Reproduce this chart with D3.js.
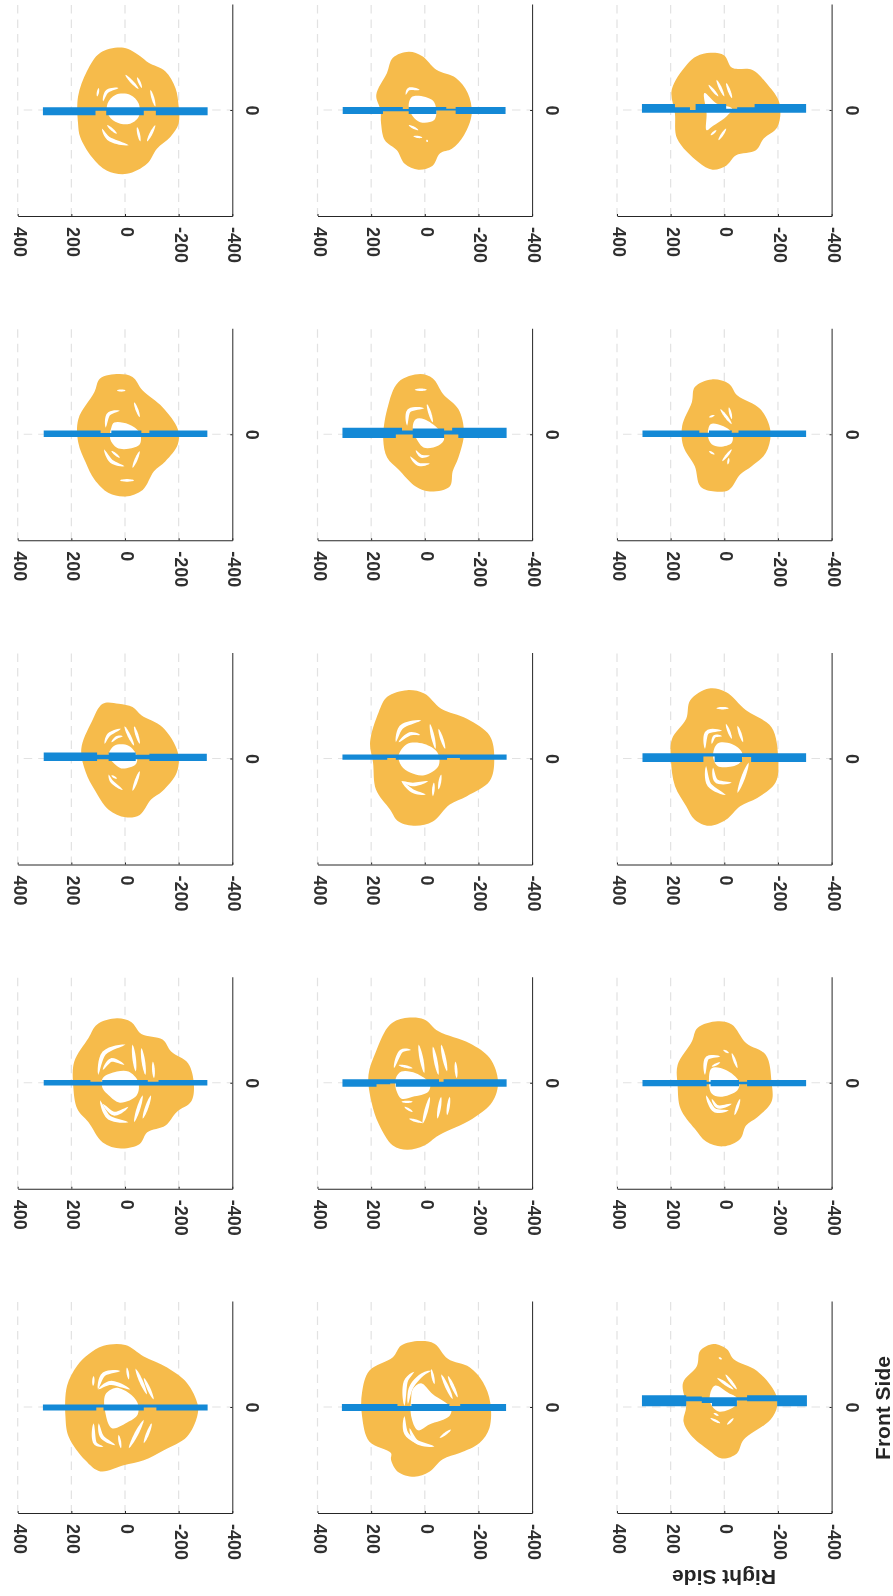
<!DOCTYPE html>
<html>
<head>
<meta charset="utf-8">
<script src="https://cdn.jsdelivr.net/npm/d3@7"></script>
<style>
  html, body { margin: 0; padding: 0; background: #fff; }
  svg { display: block; filter: blur(0.45px); }
  text { font-family: "Liberation Sans", Arial, sans-serif; fill: #262626; }
</style>
</head>
<body>
<div id="chart"></div>
<script>
const valueTicks = [400, 200, 0, -200, -400];
const sideTicks = [0];
const gridValues = [400, 200, 0, -200];

// outlines per panel, row by row: [value, side]
const outlines = [
  [[5,235],[-57,203],[-88,178],[-150,146],[-188,83],[-200,13],[-200,-51],[-169,-102],[-119,-146],[-82,-203],[-7,-241],[67,-229],[123,-178],[167,-102],[175,-51],[175,51],[142,146],[92,216]],
  [[60,220],[9,203],[-43,152],[-116,121],[-160,64],[-175,-13],[-146,-95],[-101,-146],[-57,-163],[-28,-211],[24,-225],[75,-203],[104,-152],[149,-114],[163,-51],[165,0],[181,57],[141,140],[119,197]],
  [[51,216],[0,206],[-29,159],[-103,152],[-162,95],[-206,25],[-198,-64],[-147,-108],[-118,-152],[-44,-171],[-7,-210],[44,-225],[96,-197],[176,-108],[184,-13],[196,76],[140,171],[103,203]],
  [[23,227],[-28,216],[-66,165],[-140,102],[-197,19],[-197,-38],[-151,-102],[-108,-140],[-66,-210],[-2,-235],[61,-222],[114,-171],[146,-108],[174,-32],[174,57],[114,159],[93,210]],
  [[17,227],[-30,210],[-68,152],[-125,95],[-146,6],[-125,-89],[-104,-140],[-93,-197],[-19,-216],[34,-197],[98,-133],[140,-89],[155,-19],[140,95],[98,197]],
  [[47,207],[-17,191],[-49,146],[-134,95],[-172,13],[-155,-70],[-102,-121],[-59,-152],[-17,-210],[36,-216],[89,-197],[110,-121],[153,-44],[157,32],[121,121],[110,178]],
  [[23,207],[-28,194],[-61,163],[-140,118],[-197,23],[-193,-53],[-140,-123],[-97,-155],[-55,-213],[-2,-222],[61,-193],[114,-117],[146,-53],[163,36],[125,137],[83,207]],
  [[66,258],[2,245],[-61,188],[-157,150],[-242,86],[-259,-3],[-242,-85],[-157,-142],[-93,-174],[-30,-238],[34,-254],[98,-238],[129,-193],[182,-117],[193,-15],[204,61],[172,175],[140,233]],
  [[57,264],[-6,251],[-81,182],[-176,118],[-201,-3],[-191,-91],[-123,-149],[-59,-180],[-6,-231],[57,-254],[110,-231],[142,-180],[184,-104],[199,-3],[195,74],[142,150],[127,220]],
  [[30,243],[-23,229],[-61,184],[-140,163],[-172,118],[-235,74],[-257,-9],[-246,-72],[-193,-110],[-151,-161],[-83,-187],[-55,-231],[15,-248],[83,-225],[136,-149],[178,-98],[193,-9],[189,80],[136,169],[104,220]],
  [[66,245],[2,239],[-51,194],[-167,149],[-242,93],[-273,4],[-252,-72],[-178,-136],[-51,-199],[2,-237],[66,-253],[119,-237],[172,-155],[199,-72],[210,29],[182,118],[129,220]],
  [[25,232],[-28,220],[-81,150],[-155,105],[-176,4],[-176,-72],[-123,-130],[-81,-161],[-59,-212],[4,-240],[68,-222],[110,-174],[163,-98],[174,-9],[174,67],[121,156],[100,207]],
  [[80,231],[-1,234],[-70,191],[-157,149],[-231,91],[-271,9],[-269,-36],[-231,-112],[-145,-163],[-70,-201],[5,-220],[92,-243],[148,-201],[210,-112],[222,-36],[216,80],[179,155],[136,199]],
  [[20,249],[-36,239],[-86,182],[-167,150],[-217,93],[-244,17],[-241,-79],[-204,-136],[-130,-174],[-67,-197],[-17,-244],[39,-263],[101,-244],[126,-199],[126,-174],[207,-130],[234,-34],[234,55],[207,137],[119,188],[88,232]],
  [[40,238],[-10,218],[-35,180],[-122,136],[-190,53],[-197,3],[-172,-48],[-72,-124],[-47,-175],[9,-194],[58,-163],[126,-105],[152,-55],[142,3],[154,91],[102,155],[90,212]]
];

const holes = [
  [[36,57],[-20,57],[-51,25],[-51,-25],[-14,-53],[36,-44],[65,-13],[65,25]],
  [[46,51],[-28,38],[-43,0],[-35,-38],[9,-48],[38,-32],[60,13]],
  [[74,64],[29,25],[-29,6],[-7,-25],[44,-61],[66,-76],[66,-13]],
  [[40,44],[-13,38],[-55,6],[-55,-38],[-13,-55],[30,-51],[55,-19],[51,25]],
  [[34,57],[2,57],[-51,19],[-72,-19],[-51,-42],[2,-51],[30,-19],[45,25]],
  [[51,38],[8,32],[-28,6],[-28,-32],[15,-47],[47,-38],[61,-6]],
  [[40,48],[-13,48],[-44,10],[-40,-22],[8,-38],[30,-28],[61,10]],
  [[66,55],[2,55],[-47,23],[-51,-28],[2,-63],[55,-53],[87,-28],[98,10]],
  [[25,57],[-28,55],[-66,23],[-59,-15],[-28,-30],[25,-28],[42,10]],
  [[30,42],[-13,42],[-49,4],[-44,-47],[19,-75],[61,-47],[83,-22],[83,17]],
  [[87,42],[34,36],[-19,-3],[-13,-34],[45,-53],[87,-60],[108,-22],[108,17]],
  [[47,55],[-6,48],[-55,4],[-49,-28],[15,-53],[47,-41],[57,4]],
  [[73,47],[36,72],[-14,53],[-47,15],[-47,-29],[-14,-55],[49,-80],[73,-23]],
  [[45,67],[14,90],[-30,48],[-98,-3],[-92,-34],[-17,-66],[26,-88],[51,-34],[51,29]],
  [[34,81],[-16,53],[-47,34],[-41,5],[21,-17],[52,15],[52,53]]
];

// white slivers between the rings
const slivers = [
  [[[82,32],[67,70],[24,83]],[[98,83],[104,51]],[[-1,133],[-51,79]],[[-45,124],[-63,83]],[[-95,76],[-113,13]],[[86,-70],[61,-108],[-14,-133]],[[67,-57],[30,-90]],[[-45,-64],[-57,-119]],[[-113,-57],[-82,-119]]],
  [[[71,57],[60,79],[19,76]],[[60,-57],[24,-76]],[[43,-99],[9,-104]],[[-7,-112],[-10,-121]]],
  [[[29,114],[0,51]],[[59,95],[22,51]],[[-7,102],[-29,44]],[[22,-114],[-7,-70]],[[51,-95],[29,-76]]],
  [[[30,165],[-2,165]],[[72,25],[61,76],[19,89]],[[-34,121],[-55,64]],[[78,-57],[51,-102],[2,-121]],[[51,-63],[19,-89]],[[-55,-63],[-28,-127]],[[19,-174],[-34,-174]]],
  [[[38,168],[-8,168]],[[66,32],[59,89],[2,98]],[[-8,114],[-30,44]],[[55,-83],[23,-114],[-19,-110]],[[34,-60],[13,-83],[-19,-80]]],
  [[[57,64],[36,72]],[[15,95],[-28,38]],[[-17,102],[-28,57]],[[57,-64],[36,-76]],[[-28,-57],[8,-102]],[[-17,-89],[-13,-114]]],
  [[[76,55],[61,89],[15,112]],[[51,61],[30,80],[8,84]],[[2,122],[-34,48]],[[-34,122],[-55,55]],[[61,-60],[51,-85],[8,-119]],[[51,-64],[30,-76]],[[-55,-47],[-28,-123]]],
  [[[108,61],[87,119],[13,144]],[[98,61],[55,93],[17,89]],[[-19,131],[-40,36]],[[-51,112],[-76,36]],[[87,-85],[45,-123],[-4,-136]],[[87,-85],[45,-98],[-13,-85]],[[-34,-91],[-30,-142]],[[-61,-60],[-51,-117]]],
  [[[30,190],[-17,190]],[[72,36],[64,99],[8,105]],[[47,55],[36,84],[8,84]],[[-49,124],[-70,61]],[[-6,131],[-28,74]],[[68,-28],[57,-98],[-6,-138]],[[42,-34],[30,-85],[-28,-91]],[[-91,-15],[-49,-130]]],
  [[[100,29],[78,112],[-2,144]],[[83,48],[51,86],[2,67]],[[-28,144],[-40,42]],[[-61,131],[-76,29]],[[-104,80],[-108,17]],[[93,-66],[61,-130],[-13,-149]],[[83,-79],[40,-117],[-13,-91]],[[-66,-47],[-34,-149]],[[-97,-47],[-66,-136]]],
  [[[115,55],[87,120],[51,124]],[[98,67],[45,55]],[[23,144],[2,36]],[[-30,137],[-51,29]],[[-61,144],[-83,42]],[[-114,80],[-119,17]],[[76,-91],[45,-110]],[[59,-136],[8,-151]],[[87,-72],[45,-72]],[[-19,-53],[8,-155]],[[-61,-53],[-47,-136]],[[-93,-53],[-83,-123]]],
  [[[72,29],[64,93],[15,99]],[[47,61],[15,77]],[[4,124],[-17,112]],[[-28,112],[-49,55]],[[68,-47],[36,-104],[-17,-104]],[[47,-60],[25,-91],[-28,-79]],[[-59,-60],[-38,-123]]],
  [[[101,66],[80,123],[17,136]],[[100,66],[55,91],[-20,66]],[[-7,149],[-14,104]],[[-39,145],[-82,47]],[[-70,110],[-107,28]],[[117,117],[119,79]],[[98,-61],[86,-112],[36,-144]],[[117,-61],[111,-137],[80,-150]],[[24,-105],[15,-156]],[[-70,-48],[-14,-156]],[[-100,-61],[-70,-137]]],
  [[[76,4],[70,99],[39,133]],[[63,10],[51,74],[7,124],[-24,137]],[[-24,143],[-36,86]],[[-61,124],[-104,29]],[[-86,118],[-123,36]],[[76,-34],[70,-98],[20,-142]],[[57,-79],[32,-130],[-36,-149]],[[-55,-117],[-98,-85]]],
  [[[27,110],[-35,66]],[[-4,123],[-47,66]],[[21,187],[9,180]],[[52,-42],[15,-61]],[[40,-23],[21,-33]],[[-10,-67],[-35,-42]]]
];

// blue bar, step edges along the value axis
const barValues = [
  [306,110,70,-70,-115,-308],
  [306,156,82,60,-43,-80,-115,-301],
  [307,184,128,107,-7,-48,-113,-305],
  [303,91,51,-61,-91,-307],
  [307,108,85,45,-72,-102,-125,-305],
  [305,93,57,-28,-53,-305],
  [303,104,61,-40,-91,-305],
  [307,140,108,-83,-131,-305],
  [305,78,36,-66,-100,-305],
  [303,129,85,-85,-125,-307],
  [307,180,129,108,-53,-70,-305],
  [305,66,51,-55,-85,-305],
  [306,107,80,-70,-117,-308],
  [309,102,50,-92,-132,-303],
  [307,142,84,46,-47,-85,-197,-308]
];
const barTop = [
  [10,10,10,10,10,10],
  [11,11,4,11,11,5,11,11],
  [23,10,0,23,5,10,23,23],
  [14,5,14,5,14,14],
  [25,25,14,22,14,25,25,25],
  [14,6,14,6,14,14],
  [23,14,23,14,18,18],
  [15,15,15,15,15,15],
  [20,20,20,20,20,20],
  [10,4,10,4,10,10],
  [13,13,13,13,4,13,13],
  [10,4,10,4,10,10],
  [9,9,9,9,9,9],
  [11,4,11,4,11,11],
  [44,40,37,37,37,44,44,44]
];
const barBottom = [
  [-20,-3,-20,-3,-20,-20],
  [-15,-5,-5,-15,-2,-2,-15,-15],
  [-10,-10,-10,-10,-10,-10,-10,-10],
  [-10,-10,-10,-10,-10,-10],
  [-14,-1,-1,-14,-1,-1,-14,-14],
  [-10,-10,-10,-10,-10,-10],
  [-9,-3,-9,-3,-9,-9],
  [-5,2,-5,2,-5,-5],
  [-13,8,-13,6,-13,-13],
  [-10,-10,-10,-10,-10,-10],
  [-15,-6,-3,-15,-15,-15,-15],
  [-13,-6,-13,-6,-13,-13],
  [-13,-2,-13,-2,-13,-13],
  [-15,-15,-15,-15,-15,-15],
  [3,22,15,3,25,22,3,3]
];

const width = 893, height = 1596;
const colLeft = [17.7, 317.5, 617];
const rowTop = [5, 329.25, 653.5, 977.75, 1302];
const plotW = 214.6, plotH = 212;

const svg = d3.select('#chart').append('svg')
              .attr('width', width)
              .attr('height', height);

const x = d3.scaleLinear().domain([400, -400]).range([0, plotW]);
const y = d3.scaleLinear().domain([-400, 400]).range([plotH - 1, -1]);

const blob = d3.line()
               .x(d => x(d[0]))
               .y(d => y(d[1]))
               .curve(d3.curveCatmullRomClosed.alpha(0.5));
const spine = d3.line()
                .x(d => x(d[0]))
                .y(d => y(d[1]))
                .curve(d3.curveCatmullRom.alpha(0.5));
const barArea = d3.area()
                  .x(d => x(d.v))
                  .y0(d => y(d.bottom))
                  .y1(d => y(d.top))
                  .curve(d3.curveStepAfter);

// a sliver is widest in the middle and runs out to a point at both ends
function taperedSliver(points){
  const probe = document.createElementNS('http://www.w3.org/2000/svg', 'path');
  probe.setAttribute('d', spine(points));
  const len = probe.getTotalLength();
  const maxW = Math.min(4.2, 1.6 + len / 14);
  const left = [], right = [];
  d3.range(0, 15).forEach(k => {
    const t = k / 14;
    const p = probe.getPointAtLength(t * len);
    const q = probe.getPointAtLength(Math.min(len, t * len + 0.5));
    const r = probe.getPointAtLength(Math.max(0, t * len - 0.5));
    const dx = q.x - r.x, dy = q.y - r.y, dl = Math.hypot(dx, dy) || 1;
    const w = maxW / 2 * Math.pow(Math.sin(Math.PI * t), 0.6);
    left.push([p.x - dy / dl * w, p.y + dx / dl * w]);
    right.unshift([p.x + dy / dl * w, p.y - dx / dl * w]);
  });
  return d3.line()(left.concat(right)) + 'Z';
}

outlines.forEach((outline, i) => {
  const col = i % 3, row = Math.floor(i / 3);
  const g = svg.append('g')
               .attr('transform', `translate(${colLeft[col]},${rowTop[row]})`);

  // dashed grid
  g.selectAll('line.grid-v')
   .data(gridValues)
   .enter().append('line')
     .attr('x1', d => x(d))
     .attr('x2', d => x(d))
     .attr('y1', 0)
     .attr('y2', plotH - 1)
     .attr('stroke', '#e2e2e2')
     .attr('stroke-width', 1.2)
     .attr('stroke-dasharray', '8.5,6');
  g.append('line')
   .attr('x1', 6)
   .attr('x2', plotW)
   .attr('y1', y(0))
   .attr('y2', y(0))
   .attr('stroke', '#e2e2e2')
   .attr('stroke-width', 1.2)
   .attr('stroke-dasharray', '8.5,6');

  // orange rings
  g.append('path')
   .attr('d', blob(outline))
   .attr('fill', '#f6bb4b');
  g.append('path')
   .attr('d', blob(holes[i]))
   .attr('fill', '#fff');
  g.selectAll('path.sliver')
   .data(slivers[i])
   .enter().append('path')
     .attr('class', 'sliver')
     .attr('d', taperedSliver)
     .attr('fill', '#fff');

  // blue bar
  const barRows = barValues[i].map((v, k) => ({v, top: barTop[i][k], bottom: barBottom[i][k]}));
  g.append('path')
   .attr('d', barArea(barRows))
   .attr('fill', '#1489d6');

  // axes
  const bottomAxis = g.append('g')
     .attr('transform', `translate(0,${plotH - 1})`)
     .call(d3.axisBottom(x).tickValues(valueTicks).tickSizeInner(-2).tickSizeOuter(0).tickFormat(d => String(d)));
  bottomAxis.selectAll('text')
     .attr('x', 0)
     .attr('y', 0)
     .attr('dy', 0)
     .attr('text-anchor', 'start')
     .attr('transform', 'translate(-4.5,11) rotate(90)')
     .attr('font-size', '18px')
     .style('font-family', '"Liberation Sans", Arial, sans-serif')
     .style('font-weight', 'bold')
     .style('fill', '#303030');

  const rightAxis = g.append('g')
     .attr('transform', `translate(${plotW},0)`)
     .call(d3.axisRight(y).tickValues(sideTicks).tickSizeInner(-2).tickSizeOuter(0));
  rightAxis.selectAll('text')
     .attr('x', 0)
     .attr('y', 0)
     .attr('dy', 0)
     .attr('text-anchor', 'middle')
     .attr('transform', 'translate(14,0) rotate(90)')
     .attr('font-size', '18px')
     .style('font-family', '"Liberation Sans", Arial, sans-serif')
     .style('font-weight', 'bold')
     .style('fill', '#303030');

  svg.selectAll('.domain, .tick line').attr('stroke', '#262626');
});

svg.append('text')
   .attr('transform', 'translate(724,1570) rotate(180)')
   .attr('text-anchor', 'middle')
   .attr('font-size', '21px')
   .attr('font-weight', 'bold')
   .text('Right Side');

svg.append('text')
   .attr('transform', 'translate(890,1408) rotate(-90)')
   .attr('text-anchor', 'middle')
   .attr('font-size', '21px')
   .attr('font-weight', 'bold')
   .text('Front Side');
</script>
</body>
</html>
